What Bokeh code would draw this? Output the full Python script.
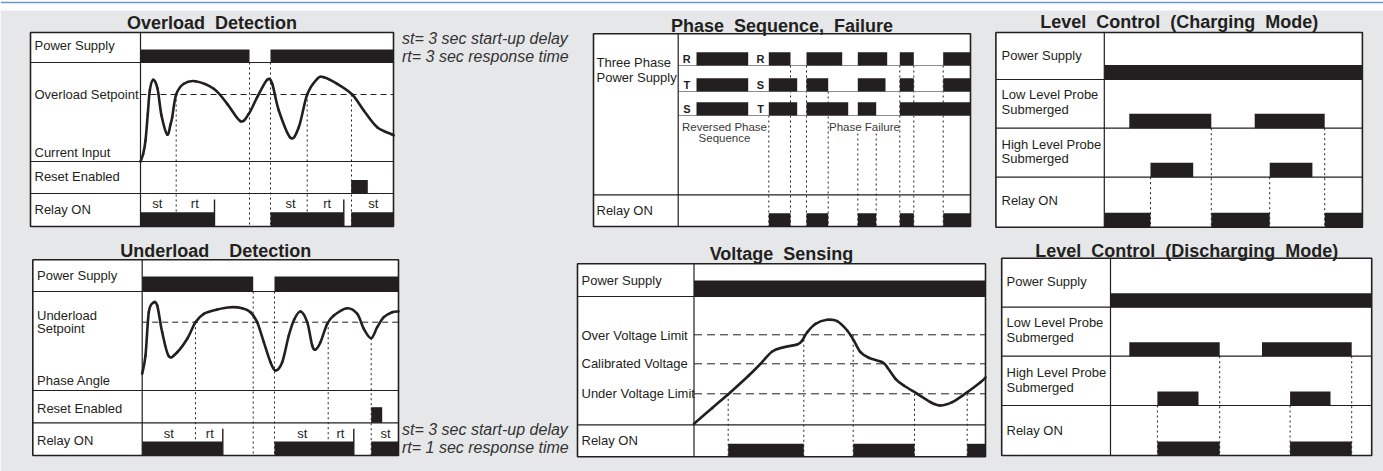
from bokeh.plotting import figure
from bokeh.models import Range1d
from bokeh.embed import file_html
from bokeh.resources import INLINE
from bokeh.core.properties import value

INK = "#231f20"
BG = "#e6e7e8"
FONT = "Liberation Sans"
SP = "\u00a0"

# ======================= DATA =======================
# time "t" = ticks from the start of each trace, level "v" = units above the row base

# ---- Overload Detection ----
ov_title = "Overload" + SP * 2 + "Detection"
ov_labels = ["Power Supply", "Overload Setpoint", "Current Input", "Reset Enabled", "Relay ON"]
ov_power_on = [(0, 109), (130, 253)]
ov_setpoint = 67
ov_t = [0, 2.7, 5, 7.3, 9.3, 12.7, 17, 21, 26.7, 30, 31.7, 35.7, 43.3, 55, 73.3, 86.7, 100,
        108.3, 116.7, 126.7, 131.7, 138.3, 150, 158.3, 166.7, 176.7, 183.3, 196.7, 211.7,
        223.3, 236.7, 251.7, 253]
ov_v = [0, 7.7, 21, 47.7, 71, 81.7, 73, 46, 27, 37, 44.3, 67, 77.7, 80.3, 72.7, 57.7, 40.3,
        47.7, 64.3, 81.7, 77.7, 51, 23.7, 34.3, 67, 82.7, 84.3, 77.7, 67,
        51, 34.3, 27, 26.5]
ov_reset_on = [(210.7, 227.3)]
ov_relay_on = [(0, 74), (130, 203.3), (210.7, 253)]
ov_relay_cut = [74, 203.3]
ov_marks_t = [35.7, 109, 130, 166.7, 211]
ov_marks_from = [67, None, None, 67, 67]
ov_delay_text = ["st", "rt", "st", "rt", "st"]
ov_delay_t = [16.7, 54.3, 150, 186.7, 232.7]
ov_note = ["st= 3 sec start-up delay", "rt= 3 sec response time"]

# ---- Underload Detection ----
un_title = "Underload" + SP * 4 + "Detection"
un_labels = ["Power Supply", "Underload", "Setpoint", "Phase Angle", "Reset Enabled", "Relay ON"]
un_power_on = [(0, 111), (132.3, 256.3)]
un_setpoint = 68.3
un_t = [0, 3.3, 6.6, 11, 15, 20, 26.6, 35, 45, 53.3, 61.6, 75, 88.3, 100, 108.3, 115, 121.6,
        128.3, 133.3, 140, 146.6, 152, 158.3, 165, 170, 173.3, 178.3, 185, 191.6, 205, 215,
        221.6, 229, 235, 241.6, 250, 256.3]
un_v = [16.7, 35, 78.3, 87.7, 85, 58.3, 34.3, 38.3, 51.7, 68.3, 76.7, 81, 83.3, 82.3, 78.3,
        68.3, 48.3, 28.3, 20, 28.3, 55, 71, 79, 68.3, 45, 41, 48.3, 66.7, 75, 82.3, 76.7,
        61.7, 52.3, 63.3, 73.3, 78.3, 79]
un_reset_on = [(229, 240)]
un_relay_on = [(0, 80.6), (132.3, 211.6), (229, 256.3)]
un_relay_cut = [80.6, 211.6]
un_marks_t = [53.3, 111, 132.3, 186, 229]
un_marks_from = [68.3, None, None, 68.3, 52.3]
un_delay_text = ["st", "rt", "st", "rt", "st"]
un_delay_t = [26.6, 67.6, 160, 198.3, 243.3]
un_note = ["st= 3 sec start-up delay", "rt= 1 sec response time"]

# ---- Phase Sequence, Failure ----
ph_title = "Phase" + SP * 2 + "Sequence," + SP * 2 + "Failure"
ph_labels = ["Three Phase", "Power Supply", "Relay ON"]
ph_letters_rev = ["R", "T", "S"]
ph_letters_fwd = ["R", "S", "T"]
ph_rev_on = [(18.3, 70)]
ph_R_on = [(90.6, 112.3), (128.3, 164), (179.6, 209), (221.6, 235.6), (265, 292.3)]
ph_S_on = [(90.6, 119), (128.3, 150), (179.6, 207.3), (221.6, 235.6), (265, 292.3)]
ph_T_on = [(90.6, 119), (128.3, 170), (179.6, 198), (221.6, 292.3)]
ph_relay_on = [(90.6, 112.3), (128.3, 150), (179.6, 198), (221.6, 235.6), (265, 292.3)]
ph_marks_t = [90.6, 112.3, 128.3, 150, 179.6, 198, 221.6, 235.6, 265]
ph_marks_lane = [2, 0, 0, 1, 3, 3, 0, 0, 0]
ph_notes = ["Reversed Phase", "Sequence", "Phase Failure"]

# ---- Voltage Sensing ----
vs_title = "Voltage" + SP * 2 + "Sensing"
vs_labels = ["Power Supply", "Over Voltage Limit", "Calibrated Voltage", "Under Voltage Limit", "Relay ON"]
vs_power_on = [(0, 291.5)]
vs_limits = [90, 61, 31]
vs_t = [0, 18.2, 36.5, 54.8, 66.5, 78.2, 89.8, 103.2, 108.2, 113.2, 121.5, 133.2, 143.2,
        153.2, 159.8, 166.5, 174.8, 188.2, 193.2, 201.5, 209.8, 223.2, 236.5, 246.5, 258.2,
        273.2, 286.5, 291.5]
vs_v = [1, 16.8, 32.6, 49.3, 61, 73.3, 77.6, 80.3, 84.3, 92.6, 101, 105, 103.6,
        94.3, 84.3, 72.6, 67, 62.6, 57.6, 46, 39.3, 31, 22.6, 19.3, 22.6,
        32.6, 42.6, 47.3]
vs_relay_on = [(34.2, 109.8), (159.2, 220.5), (273.2, 291.5)]
vs_marks_t = [34.2, 109.8, 159.2, 220.5, 273.2]
vs_marks_from = [31, 90, 90, 31, 31]

# ---- Level Control (Charging Mode) ----
lc_title = "Level" + SP * 2 + "Control" + SP * 2 + "(Charging" + SP * 2 + "Mode)"
lc_labels = ["Power Supply", "Low Level Probe", "Submerged", "High Level Probe", "Submerged", "Relay ON"]
lc_power_on = [(0, 258.1)]
lc_low_on = [(25, 107), (150.4, 220.4)]
lc_high_on = [(46.2, 88.9), (165.4, 208.1)]
lc_relay_on = [(0, 46.2), (107, 165.4), (220.4, 258.1)]
lc_marks_t = [46.2, 107, 165.4, 220.4]

# ---- Level Control (Discharging Mode) ----
ld_title = "Level" + SP * 2 + "Control" + SP * 2 + "(Discharging" + SP * 2 + "Mode)"
ld_labels = lc_labels
ld_power_on = [(0, 261.2)]
ld_low_on = [(18.8, 109.2), (151.5, 241.2)]
ld_high_on = [(46.9, 88), (179.6, 220)]
ld_relay_on = [(46.9, 109.2), (179.6, 241.2)]
ld_marks_t = [46.9, 109.2, 179.6, 241.2]

# ======================= LAYOUT =======================
OV = dict(left=30, div=140, right=393, rows=[32, 62, 161, 193, 226])
UN = dict(left=32.3, div=141.7, right=398, rows=[259.3, 291, 390, 422.3, 455])
PH = dict(left=593, div=677.7, right=970, rows=[33.3, 194.3, 226])
VS = dict(left=577, div=693.5, right=985, rows=[263.3, 296, 424.3, 456.3])
LC = dict(left=995.4, div=1103.8, right=1361.9, rows=[32, 79, 127.7, 176.7, 226.7])
LD = dict(left=1001.2, div=1110, right=1371.2, rows=[257.7, 306.7, 355.7, 405, 455])
PH_LANES = [31.7, 57.7, 81.7, 99.7]   # lane bases below panel top
LEVEL_MARK_ROWS = [3, 2, 3, 2]

W, H = 1383, 471
p = figure(width=W, height=H, x_range=Range1d(0, W), y_range=Range1d(H, 0),
           output_backend="svg", toolbar_location=None, min_border=0,
           x_axis_location=None, y_axis_location=None)
p.grid.visible = False
p.outline_line_color = None
p.background_fill_color = "white"
p.border_fill_color = "white"

p.quad(left=[0], right=[W], top=[10], bottom=[H], fill_color=BG, line_color=None)
p.segment(x0=[0], y0=[2], x1=[W], y1=[2], line_color="#6a96c8", line_width=1.5)


def tx(L, t):
    return L["div"] + t


def base(L, row):
    return L["rows"][row + 1]


def frame_fill(L):
    r = L["rows"]
    p.quad(left=[L["left"]], right=[L["right"]], top=[r[0]], bottom=[r[-1]],
           fill_color="white", line_color=None)


def frame_lines(L):
    r = L["rows"]
    inner = r[1:-1]
    p.segment(x0=[L["left"]] * len(inner), y0=inner, x1=[L["right"]] * len(inner), y1=inner,
              line_color=INK, line_width=1.2)
    p.segment(x0=[L["div"]], y0=[r[0]], x1=[L["div"]], y1=[r[-1]], line_color=INK, line_width=1.2)
    p.quad(left=[L["left"]], right=[L["right"]], top=[r[0]], bottom=[r[-1]],
           fill_color=None, line_color=INK, line_width=1.6)


def bars(L, yb, spans, h):
    p.quad(left=[tx(L, a) for a, _ in spans], right=[tx(L, b) for _, b in spans],
           top=[yb - h] * len(spans), bottom=[yb] * len(spans), fill_color=INK, line_color=None)


def dotted(xs, y0s, y1):
    p.segment(x0=xs, y0=y0s, x1=xs, y1=[y1] * len(xs), line_color=INK, line_width=1,
              line_dash="2 3")


def dashed(L, yb, levels, dash):
    ys = [yb - v for v in levels]
    p.segment(x0=[L["div"]] * len(ys), y0=ys, x1=[L["right"]] * len(ys), y1=ys,
              line_color=INK, line_width=1, line_dash=dash)


def curve(L, yb, ts, vs):
    xs = [tx(L, t) for t in ts]
    ys = [yb - v for v in vs]
    n = len(xs)
    X0, Y0, X1, Y1, C0x, C0y, C1x, C1y = [], [], [], [], [], [], [], []
    for i in range(n - 1):
        a = max(i - 1, 0)
        d = min(i + 2, n - 1)
        X0.append(xs[i]); Y0.append(ys[i]); X1.append(xs[i + 1]); Y1.append(ys[i + 1])
        C0x.append(xs[i] + (xs[i + 1] - xs[a]) / 6)
        C0y.append(ys[i] + (ys[i + 1] - ys[a]) / 6)
        C1x.append(xs[i + 1] - (xs[d] - xs[i]) / 6)
        C1y.append(ys[i + 1] - (ys[d] - ys[i]) / 6)
    p.bezier(x0=X0, y0=Y0, x1=X1, y1=Y1, cx0=C0x, cy0=C0y, cx1=C1x, cy1=C1y,
             line_color=INK, line_width=2.6, line_cap="round")


def text(xs, ys, ss, size="13px", style="normal", align="left", color=INK):
    p.text(x=xs, y=ys, text=ss, text_font=value(FONT), text_font_size=value(size),
           text_font_style=value(style), text_align=value(align), text_baseline=value("middle"),
           text_color=color)


def title(L, y, s):
    text([(L["left"] + L["right"]) / 2], [y], [s], size="18px", style="bold", align="center")


for L in (OV, UN, PH, VS, LC, LD):
    frame_fill(L)


def load_panel(L, power_on, ph, setpoint, ts, vs, reset_on, rh, relay_on, relay_cut,
               marks_t, marks_from, delay_text, delay_t, rel_h, delay_y):
    cb = base(L, 1)
    y_from = [base(L, 0) if m is None else cb - m for m in marks_from]
    dotted([tx(L, t) for t in marks_t], y_from, L["rows"][-1])
    dashed(L, cb, [setpoint], "6 4")
    frame_lines(L)
    bars(L, base(L, 0), power_on, ph)
    bars(L, base(L, 2), reset_on, rh)
    bars(L, base(L, 3), relay_on, rel_h)
    xs = [tx(L, t) for t in relay_cut]
    p.segment(x0=xs, y0=[base(L, 2) + 6] * len(xs), x1=xs, y1=[base(L, 3)] * len(xs),
              line_color=INK, line_width=1.4)
    curve(L, cb, ts, vs)
    text([tx(L, t) for t in delay_t], [delay_y] * len(delay_t), delay_text, align="center")


# ---------- Overload ----------
load_panel(OV, ov_power_on, 13, ov_setpoint, ov_t, ov_v, ov_reset_on, 13.4, ov_relay_on,
           ov_relay_cut, ov_marks_t, ov_marks_from, ov_delay_text, ov_delay_t, 14.3, 203)
title(OV, 22.5, ov_title)
text([34] * 5, [45, 93.5, 151.5, 176, 208.5], ov_labels)
text([401.5, 401.5], [38.3, 56], ov_note, size="16px", style="italic", color="#333333")

# ---------- Underload ----------
load_panel(UN, un_power_on, 15, un_setpoint, un_t, un_v, un_reset_on, 15.6, un_relay_on,
           un_relay_cut, un_marks_t, un_marks_from, un_delay_text, un_delay_t, 14, 433)
title(UN, 250, un_title)
text([36.5] * 6, [275, 315, 327.5, 380, 407.5, 440], un_labels)
text([401.5, 401.5], [429, 447.3], un_note, size="16px", style="italic", color="#333333")

# ---------- Phase sequence ----------
top = PH["rows"][0]
lane_y = [top + o for o in PH_LANES]
dotted([tx(PH, t) for t in ph_marks_t], [lane_y[k] for k in ph_marks_lane], PH["rows"][-1])
p.segment(x0=[PH["div"]] * 3, y0=lane_y[:3], x1=[PH["right"]] * 3, y1=lane_y[:3],
          line_color="#8c8c8c", line_width=1)
frame_lines(PH)
for k, spans in enumerate([ph_R_on, ph_S_on, ph_T_on]):
    bars(PH, lane_y[k], ph_rev_on, 13.3)
    bars(PH, lane_y[k], spans, 13.3)
bars(PH, base(PH, 1), ph_relay_on, 13.3)
text([tx(PH, 8.6)] * 3, [y - 6.6 for y in lane_y[:3]], ph_letters_rev, size="11px",
     style="bold", align="center")
text([tx(PH, 82.3)] * 3, [y - 6.6 for y in lane_y[:3]], ph_letters_fwd, size="11px",
     style="bold", align="center")
text([tx(PH, 46.3), tx(PH, 46.3), tx(PH, 186.3)], [top + 93.4, top + 104.4, top + 93.4],
     ph_notes, size="11.5px", align="center", color="#3a3a3a")
title(PH, 25, ph_title)
text([596] * 3, [61.7, 76.7, 210], ph_labels)

# ---------- Voltage sensing ----------
cb = base(VS, 1)
dotted([tx(VS, t) for t in vs_marks_t], [cb - m for m in vs_marks_from], VS["rows"][-1])
dashed(VS, cb, vs_limits, "8 5")
frame_lines(VS)
bars(VS, base(VS, 0), vs_power_on, 16)
bars(VS, base(VS, 2), vs_relay_on, 13)
curve(VS, cb, vs_t, vs_v)
title(VS, 253, vs_title)
text([581] * 5, [280, 335, 363.3, 393.3, 440], vs_labels)


# ---------- Level control ----------
def level_panel(L, power_on, low_on, high_on, relay_on, marks_t, h):
    dotted([tx(L, t) for t in marks_t], [L["rows"][r] for r in LEVEL_MARK_ROWS], L["rows"][-1])
    frame_lines(L)
    bars(L, base(L, 0), power_on, h)
    bars(L, base(L, 1), low_on, h)
    bars(L, base(L, 2), high_on, h)
    bars(L, base(L, 3), relay_on, h)


level_panel(LC, lc_power_on, lc_low_on, lc_high_on, lc_relay_on, lc_marks_t, 14.4)
title(LC, 21.7, lc_title)
text([1001] * 6, [55, 94, 109.3, 144, 158.3, 200], lc_labels)

level_panel(LD, ld_power_on, ld_low_on, ld_high_on, ld_relay_on, ld_marks_t, 14)
title(LD, 250, ld_title)
text([1006] * 6, [280.7, 321.7, 337.3, 371.7, 386.7, 430], ld_labels)

open("out.html", "w").write(file_html(p, INLINE))
